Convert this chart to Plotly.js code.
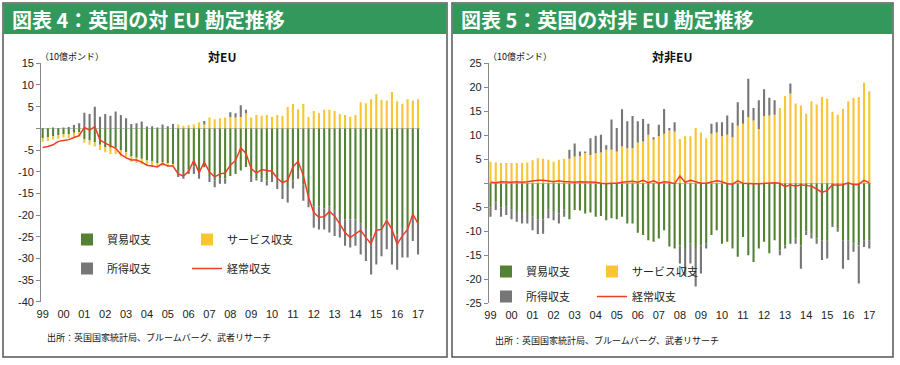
<!DOCTYPE html>
<html><head><meta charset="utf-8">
<script src="https://cdn.plot.ly/plotly-3.0.1.min.js"></script>
<style>html,body{margin:0;padding:0;background:#fff;}#chart{width:900px;height:365px;}</style>
</head><body><div id="chart"></div>
<script>
// ---- data (10億ポンド, quarterly 1999Q1-2017Q1) ----
const yearLabels = ['99','00','01','02','03','04','05','06','07','08','09','10','11','12','13','14','15','16','17'];

// 対EU
const euTrade = [
-2.3,-2.0,-1.8,-1.6, -1.3,-1.3,-1.0,-0.9, -2.5,-2.8,-3.2,-3.8, -4.3,-4.5,-4.5,-5.0,
-5.5,-6.5,-6.8,-7.0, -7.4,-7.6,-8.0,-7.8, -8.0,-8.2,-10.0,-10.3, -9.5,-8.8,-10.0,-9.0,
-11.0,-12.0,-11.5,-11.5, -11.0,-10.5,-9.7,-8.9, -11.0,-11.5,-11.5,-12.0, -10.5,-11.5,-12.5,-13.5,
-12.0,-10.0,-13.0,-15.0, -18.0,-18.0,-18.5,-18.0, -19.0,-20.0,-21.0,-21.0, -21.0,-22.0,-23.0,-25.0,
-23.0,-22.5,-21.0,-22.5, -24.5,-23.0,-23.0,-20.0, -22.0];
const euServ = [
-0.8,-0.9,-0.8,-0.8, -0.8,-0.9,-1.0,-1.0, -0.8,-1.0,-1.0,-1.2, -1.2,-1.4,-1.4,-1.5,
-1.2,-1.2,-1.2,-1.3, -1.2,-1.2,-1.0,-0.9, -0.8,-0.5,0.9,0.6, 0.8,0.9,1.4,0.9,
2.5,2.1,2.3,2.5, 2.6,2.5,2.6,3.5, 2.5,3.1,2.9,3.1, 2.7,3.1,2.9,4.9,
5.6,4.4,5.6,2.6, 4.0,3.5,4.3,4.3, 4.0,3.3,3.1,2.7, 3.1,6.0,5.8,6.7,
7.9,6.6,6.4,8.4, 6.2,5.7,6.7,6.4, 6.7];
const euInc = [
0.1,0.0,0.2,0.1, 0.2,0.3,0.8,1.2, 3.6,3.3,5.0,2.7, 3.3,2.9,3.9,3.1,
2.3,1.0,1.2,1.6, 0.4,0.5,0.2,0.9, 0.5,1.0,-1.2,-1.3, -1.0,-1.7,-1.6,0.8,
-1.4,-1.6,-1.3,-1.3, 1.1,1.0,2.7,0.8, -1.4,-0.5,-0.9,-1.2, -1.9,-2.5,-3.8,-3.6,
-1.9,-1.6,-3.7,-3.2, -4.9,-5.3,-4.8,-6.0, -5.8,-5.2,-6.1,-6.5, -6.1,-7.1,-7.6,-8.7,
-8.4,-7.0,-6.9,-8.9, -8.1,-6.8,-6.8,-6.0, -7.1];
const euCA = [
-4.4,-4.2,-3.8,-3.0, -2.8,-2.6,-2.1,-1.7, 0.2,-0.4,0.4,-2.7, -3.4,-4.0,-4.6,-6.0,
-6.8,-7.3,-7.3,-7.8, -8.5,-8.7,-8.9,-8.1, -8.7,-8.7,-10.5,-11.0, -9.9,-7.4,-10.2,-7.8,
-10.1,-11.2,-10.5,-10.3, -8.5,-7.4,-4.5,-5.8, -9.3,-10.3,-9.5,-9.7, -9.9,-11.5,-12.5,-12.0,
-8.9,-7.6,-10.9,-15.9, -19.4,-20.5,-20.4,-19.2, -20.2,-22.1,-24.0,-25.2, -24.3,-23.5,-25.2,-26.6,
-23.5,-23.3,-21.2,-23.3, -26.7,-24.8,-23.3,-19.8, -21.9];

// 対非EU
const nonTrade = [
-5.0,-4.0,-5.0,-4.8, -5.5,-5.8,-6.0,-6.0, -7.0,-7.5,-7.5,-5.5, -5.8,-6.3,-5.5,-7.5,
-5.6,-5.7,-6.3,-6.1, -7.0,-6.8,-7.7,-7.3, -7.5,-7.0,-8.4,-8.4, -10.3,-10.8,-11.9,-12.2,
-11.5,-9.8,-13.2,-13.6, -13.0,-13.5,-12.5,-13.5, -13.0,-12.5,-10.8,-9.8, -12.6,-12.2,-13.6,-15.3,
-11.2,-15.0,-16.4,-13.6, -12.2,-14.6,-11.9,-14.0, -13.0,-12.6,-11.5,-13.0, -10.0,-10.5,-11.5,-12.0,
-12.0,-8.5,-9.5,-12.0, -12.0,-12.5,-13.0,-12.0, -12.0];
const nonServ = [
4.5,4.3,4.2,4.2, 4.2,4.2,4.2,4.3, 4.8,5.2,5.1,4.9, 4.5,4.9,5.1,5.1,
5.6,5.7,6.3,5.9, 6.3,6.4,7.0,7.0, 6.6,7.7,7.3,7.3, 8.5,8.7,10.1,9.1,
9.8,10.3,11.0,10.8, 9.2,9.8,9.8,11.5, 10.6,9.4,10.3,10.6, 9.8,10.1,9.6,12.0,
12.4,13.8,13.1,11.3, 14.0,14.1,14.3,15.7, 18.2,18.7,16.6,16.2, 14.5,17.1,16.4,18.0,
17.6,14.9,14.3,15.5, 17.1,17.8,18.0,21.0, 19.2];
const nonInc = [
-2.0,-1.6,-2.0,-1.8, -2.0,-2.2,-2.4,-2.4, -2.8,-3.1,-3.0,-1.8, -1.9,-2.1,-1.5,1.9,
2.7,0.9,0.3,3.5, 3.6,3.7,0.9,6.3, 4.9,7.7,5.6,6.7, 4.4,4.7,2.3,0.5,
2.4,5.2,0.5,1.9, -3.7,-5.7,-4.2,-8.0, -5.8,-1.1,2.1,2.1, 2.9,4.0,3.0,4.9,
2.8,8.0,2.6,6.0, 5.6,3.7,3.0,-1.0, -0.6,2.1,-1.1,-4.8, -0.8,-1.0,-1.1,-4.0,
-3.7,-0.6,-0.6,-5.8, -4.0,-1.8,-7.9,-1.3, -1.6];
const nonCA = [
0.2,0.1,0.3,0.2, 0.2,0.3,0.2,0.3, 0.5,0.6,0.6,0.5, 0.3,0.5,0.3,0.3,
0.2,0.3,0.3,0.2, 0.2,0.0,-0.1,0.0, 0.0,0.2,0.3,0.4, 0.2,0.6,0.1,0.5,
0.0,0.3,0.2,-0.1, 1.5,0.2,0.6,0.3, 0.0,0.0,0.3,0.5, 0.3,-0.1,-0.2,0.5,
0.0,-0.1,-0.1,-0.1, 0.0,0.1,0.1,0.0, -0.7,-0.3,-0.6,-0.3, -0.4,-0.6,-1.2,-1.9,
-1.5,-0.3,-0.4,-0.3, 0.1,-0.3,-0.2,0.6, 0.1];

const names = {trade:'貿易収支', serv:'サービス収支', inc:'所得収支', ca:'経常収支'};

// ---- categories ----
const quarters = [];
for (let y = 1999; y <= 2017; y++) for (let q = 1; q <= 4; q++) { if (y === 2017 && q > 1) break; quarters.push(y + 'Q' + q); }
const yearTicks = quarters.filter(q => q.endsWith('Q1'));

// ---- style ----
const W = 900, H = 365;
const px = v => v / W, py = v => 1 - v / H;
const JP = '"Noto Sans CJK JP", "Noto Sans", sans-serif';
const NUM = '"Liberation Sans", Arial, sans-serif';
const COL = {trade:'#548235', serv:'#F8C534', inc:'#767676', ca:'#F03C24'};

function panel(xa, ya, tr, sv, inc, ca, lg1, lg2, pre) {
  return [
    {type:'bar', x:quarters, y:tr, xaxis:xa, yaxis:ya, name:names.trade, marker:{color:COL.trade, line:{width:0}}, legend:lg1, legendgroup:pre+'t'},
    {type:'bar', x:quarters, y:sv, xaxis:xa, yaxis:ya, name:names.serv, marker:{color:COL.serv, line:{width:0}}, legend:lg2, legendgroup:pre+'s'},
    {type:'bar', x:quarters, y:inc, xaxis:xa, yaxis:ya, name:names.inc, marker:{color:COL.inc, line:{width:0}}, legend:lg1, legendgroup:pre+'i'},
    {type:'scatter', mode:'lines', x:quarters, y:ca, xaxis:xa, yaxis:ya, name:names.ca, line:{color:COL.ca, width:1.5}, legend:lg2, legendgroup:pre+'c'}
  ];
}
const data = [].concat(
  panel('x', 'y', euTrade, euServ, euInc, euCA, 'legend', 'legend2', 'a'),
  panel('x2', 'y2', nonTrade, nonServ, nonInc, nonCA, 'legend3', 'legend4', 'b')
);

function xax(l, r) {
  return {domain:[px(l), px(r)], type:'category', range:[-0.3, 72.4], tickvals:yearTicks, ticktext:yearLabels,
    showline:false, ticks:'', showgrid:false, zeroline:false, tickfont:{family:NUM, size:11, color:'#222'}, ticklabelstandoff:4, fixedrange:true};
}
function yax(top, bot, lo, hi, anchor) {
  const tv = []; for (let v = lo; v <= hi; v += 5) tv.push(v);
  return {domain:[py(bot), py(top)], range:[lo, hi], tickvals:tv, ticktext:tv.map(v => v === 0 ? '' : String(v)), anchor:anchor,
    showline:true, linecolor:'#888', linewidth:1, ticks:'outside', ticklen:4, tickcolor:'#888', showgrid:false,
    zeroline:true, zerolinecolor:'#c4c4c4', zerolinewidth:1, tickfont:{family:NUM, size:11, color:'#222'}, fixedrange:true};
}
function leg(x, y, gap) {
  return {x:px(x), y:py(y), xanchor:'left', yanchor:'top', orientation:'v', bgcolor:'rgba(0,0,0,0)', borderwidth:0,
    font:{family:JP, size:11, color:'#222'}, tracegroupgap:gap, itemwidth:30};
}
function box(x0, x1) {
  return [
    {type:'rect', xref:'paper', yref:'paper', x0:px(x0), x1:px(x1), y0:py(357), y1:py(3), line:{color:'#555', width:1.5}, fillcolor:'rgba(0,0,0,0)', layer:'below'},
    {type:'rect', xref:'paper', yref:'paper', x0:px(x0+0.8), x1:px(x1-0.8), y0:py(34), y1:py(3.8), line:{width:0}, fillcolor:'#32985C', layer:'below'}
  ];
}
function ann(text, x, y, size, xanchor, color, family) {
  return {text:text, x:px(x), y:py(y), xref:'paper', yref:'paper', xanchor:xanchor, yanchor:'middle', showarrow:false,
    font:{family:family || JP, size:size, color:color || '#111'}};
}
const source = '出所：英国国家統計局、ブルームバーグ、武者リサーチ';

const layout = {
  width:W, height:H, margin:{l:0, r:0, t:0, b:0}, paper_bgcolor:'#fff', plot_bgcolor:'#fff',
  barmode:'relative', bargap:0.6, showlegend:true,
  font:{family:NUM, size:11, color:'#222'},
  xaxis:xax(41.1, 420.1), yaxis:yax(63.3, 301.8, -40, 15, 'x'),
  xaxis2:Object.assign(xax(488.9, 871.4), {anchor:'y2'}), yaxis2:yax(63.3, 303.2, -25, 25, 'x2'),
  legend:leg(67, 225, 10), legend2:leg(187, 225, 10), legend3:leg(486, 257, 6), legend4:leg(592, 257, 6),
  shapes:[].concat(box(3, 447), box(452, 893)),
  annotations:[
    ann('<b>図表 4：英国の対 EU 勘定推移</b>', 10, 19, 20, 'left', '#fff'),
    ann('<b>図表 5：英国の対非 EU 勘定推移</b>', 459, 19, 20, 'left', '#fff'),
    ann('（10億ポンド）', 38, 56, 9, 'left'),
    ann('（10億ポンド）', 486, 56, 9, 'left'),
    ann('<b>対EU</b>', 222, 56, 12, 'center'),
    ann('<b>対非EU</b>', 672, 56, 12, 'center'),
    ann(source, 45, 337, 9, 'left'),
    ann(source, 493, 340, 9, 'left')
  ]
};
Plotly.newPlot('chart', data, layout, {staticPlot:true, displayModeBar:false});
</script></body></html>
